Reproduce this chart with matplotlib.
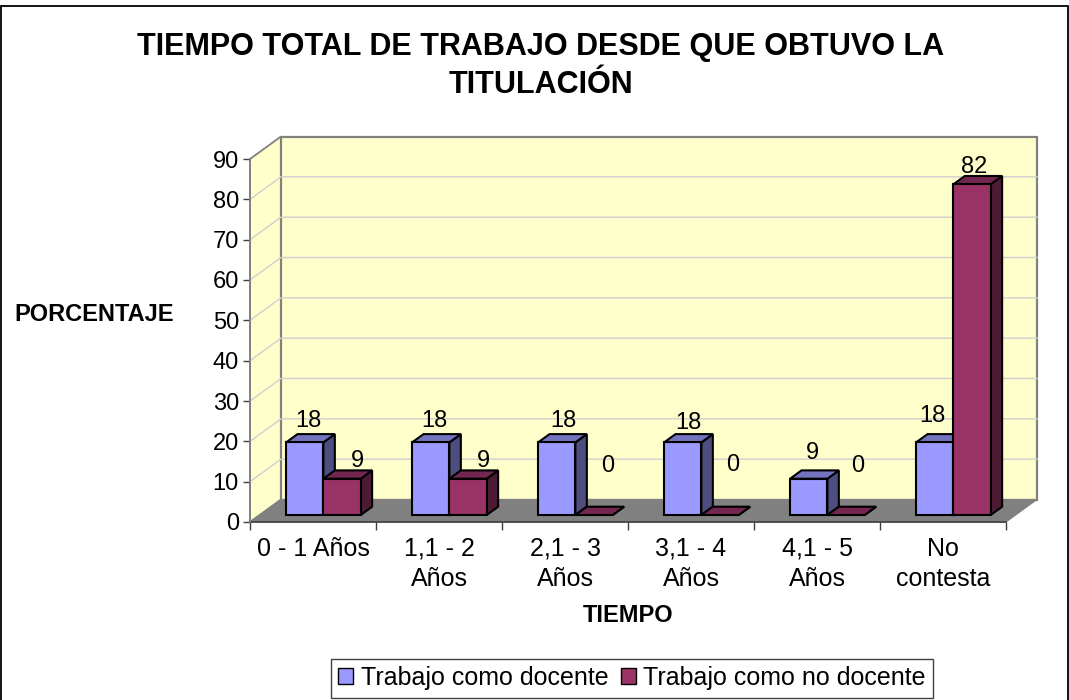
import matplotlib
matplotlib.use("Agg")
import matplotlib.pyplot as plt
from matplotlib.patches import Polygon, Patch

plt.rcParams['font.family'] = ['Liberation Sans', 'DejaVu Sans']

# ---- data ----
categories = ["0 - 1 Años", "1,1 - 2\nAños", "2,1 - 3\nAños", "3,1 - 4\nAños", "4,1 - 5\nAños", "No\ncontesta"]
docente = [18, 18, 18, 18, 9, 18]
no_docente = [9, 9, 0, 0, 0, 82]
y_ticks = [0, 10, 20, 30, 40, 50, 60, 70, 80, 90]
series_names = ["Trabajo como docente", "Trabajo como no docente"]
title = "TIEMPO TOTAL DE TRABAJO DESDE QUE OBTUVO LA\nTITULACIÓN"

# ---- label offsets in pixels from the top centre of each bar's face ----
off_doc = [(4, 21), (4, 21), (7, 21), (6, 19), (4, 26), (-2, 26)]
off_nodoc = [(15, 18), (15, 18), (14, 49), (13, 50), (12, 49), (2, 17)]

# ---- style ----
W, H = 1069, 700
L, R, B, T = 250, 1006, 522, 159
DX = 31 / ((R - L) / 6)          # depth of the floor, in category units
DY = 22.5 / ((B - T) / 90)       # depth of the floor, in value units
BAR_D0, BAR_D1 = 0.31, 0.68
MARGIN, BAR_W = 0.21, 0.296
C_DOC = ("#9999FF", "#7373BF", "#4D4D80")
C_NOD = ("#993366", "#732650", "#4D1A33")

fig = plt.figure(figsize=(W / 100, H / 100), dpi=100, facecolor="white")
ax = fig.add_axes([L / W, 1 - B / H, (R - L) / W, (B - T) / H])
ax.set_xlim(0, 6)
ax.set_ylim(0, 90)
ax.patch.set_visible(False)
for s in ax.spines.values():
    s.set_visible(False)


def poly(pts, fc, ec, lw, z):
    ax.add_patch(Polygon(pts, closed=True, facecolor=fc, edgecolor=ec, linewidth=lw,
                         joinstyle="miter", zorder=z, clip_on=False))


# walls and floor
n, vmax = len(categories), y_ticks[-1]
poly([(0, 0), (DX, DY), (DX, vmax + DY), (0, vmax)], "#FFFFCC", "#808080", 1.3, 1)
poly([(DX, DY), (n + DX, DY), (n + DX, vmax + DY), (DX, vmax + DY)], "#FFFFCC", "#808080", 1.6, 1)
poly([(0, 0), (n, 0), (n + DX, DY), (DX, DY)], "#808080", "#808080", 0.8, 2)
for v in y_ticks[1:-1]:
    ax.plot([0, DX, n + DX], [v, v + DY, v + DY], color="#CFCFCF", lw=1.0, zorder=1.5, clip_on=False)


def bar(x0, v, colors, z):
    x1 = x0 + BAR_W
    d0x, d0y, d1x, d1y = BAR_D0 * DX, BAR_D0 * DY, BAR_D1 * DX, BAR_D1 * DY
    ec, lw = "black", 1.5
    poly([(x1 + d0x, d0y), (x1 + d1x, d1y), (x1 + d1x, d1y + v), (x1 + d0x, d0y + v)], colors[2], ec, lw, z)
    poly([(x0 + d0x, d0y + v), (x1 + d0x, d0y + v), (x1 + d1x, d1y + v), (x0 + d1x, d1y + v)], colors[1], ec, lw, z)
    if v > 0:
        poly([(x0 + d0x, d0y), (x1 + d0x, d0y), (x1 + d0x, d0y + v), (x0 + d0x, d0y + v)], colors[0], ec, lw, z)
    return x0 + d0x + BAR_W / 2, d0y + v


for i in range(n):
    for j, (vals, cols, offs) in enumerate(((docente, C_DOC, off_doc), (no_docente, C_NOD, off_nodoc))):
        cx, cy = bar(i + MARGIN + j * BAR_W, vals[i], cols, 3 + i + j * 0.1)
        ax.annotate(str(vals[i]), (cx, cy), xytext=offs[i], textcoords="offset pixels",
                    ha="center", va="center", fontsize=17, zorder=20, annotation_clip=False)

# axes ticks and labels
ax.set_xticks(range(n + 1))
ax.set_xticklabels([])
ax.set_xticks([i + 0.5 for i in range(n)], minor=True)
ax.set_xticklabels(categories, minor=True, fontsize=18, linespacing=1.33)
ax.tick_params(axis="x", which="major", length=6, width=1.0, color="#404040")
ax.tick_params(axis="x", which="minor", length=0, pad=10.5)
ax.set_yticks(y_ticks)
ax.tick_params(axis="y", length=5, width=1.0, color="#404040", labelsize=17, pad=3)
ax.plot([0, n], [0, 0], color="#404040", lw=1.2, zorder=2.5, clip_on=False)
ax.plot([0, 0], [0, vmax], color="#808080", lw=1.2, zorder=2.5, clip_on=False)

fig.text(541 / W, 1 - 66 / H, title, ha="center", va="center", fontsize=22, fontweight="bold", linespacing=1.35)
fig.text(94 / W, 1 - 314 / H, "PORCENTAJE", ha="center", va="center", fontsize=17, fontweight="bold")
fig.text(628 / W, 1 - 616 / H, "TIEMPO", ha="center", va="center", fontsize=17, fontweight="bold")

# chart border
fig.add_artist(plt.Rectangle((1 / W, -0.02), (W - 2) / W, 1.02 - 6 / H, transform=fig.transFigure,
                             fill=False, edgecolor="black", linewidth=1.3))

handles = [Patch(facecolor=C_DOC[0], edgecolor="black"), Patch(facecolor=C_NOD[0], edgecolor="black")]
fig.legend(handles, series_names, loc="center", bbox_to_anchor=(632 / W, 1 - 678 / H), ncol=2,
           fontsize=18, frameon=True, fancybox=False, framealpha=1, edgecolor="#404040",
           handlelength=0.6, handleheight=0.6, handletextpad=0.3, columnspacing=0.5,
           borderpad=0.3, borderaxespad=0)

fig.savefig("out.png", dpi=100, facecolor="white")
